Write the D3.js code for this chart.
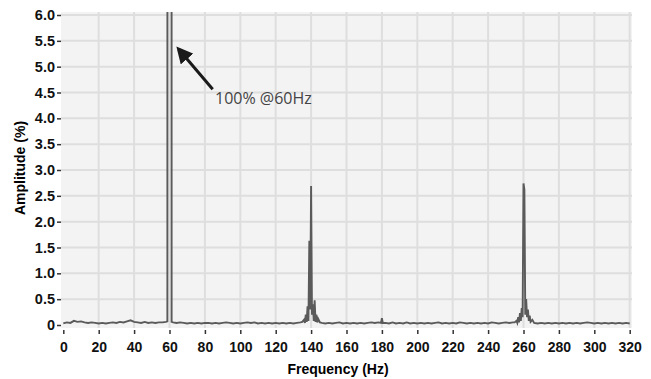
<!DOCTYPE html>
<html>
<head>
<meta charset="utf-8">
<script src="https://cdn.jsdelivr.net/npm/d3@7"></script>
<style>
body { margin: 0; background: #fff; }
svg { display: block; }
</style>
</head>
<body>
<div id="chart"></div>
<script>
// Spectrum samples (Hz, % amplitude). 100 = fundamental, clipped at 6%.
var freqHz = [
	0, 2, 4, 6, 8, 10, 12, 14, 16, 18, 20, 22, 24, 26, 28, 30, 32, 34, 36, 38,
	40, 42, 44, 46, 48, 50, 52, 54, 56, 58, 58.8, 59, 61, 61.2,
	62, 64, 66, 68, 70, 72, 74, 76, 78, 80, 82, 84, 86, 88, 90, 92, 94, 96, 98,
	100, 102, 104, 106, 108, 110, 112, 114, 116, 118, 120, 122, 124, 126, 128, 130, 132, 134,
	135, 136, 136.5, 137, 137.5, 138, 138.5, 139, 139.5, 140, 140.5, 141, 141.5, 142, 142.5,
	143, 143.5, 144, 145, 146, 148, 150, 152, 154, 156, 158, 160, 162, 164, 166, 168, 170,
	172, 174, 176, 178, 179.5, 180, 180.5, 182, 184, 186, 188, 190, 192, 194, 196, 198,
	200, 202, 204, 206, 208, 210, 212, 214, 216, 218, 220, 222, 224, 226, 228, 230, 232,
	234, 236, 238, 240, 242, 244, 246, 248, 250, 252, 254,
	255, 256, 256.5, 257, 257.5, 258, 258.5, 259, 259.5, 260, 260.5, 261, 261.5, 262, 262.5,
	263, 263.5, 264, 265, 266, 268, 270, 272, 274, 276, 278, 280, 282, 284, 286, 288, 290,
	292, 294, 296, 298, 300, 302, 304, 306, 308, 310, 312, 314, 316, 318, 320
];
var ampPct = [
	0.03, 0.05, 0.04, 0.08, 0.06, 0.07, 0.05, 0.04, 0.05, 0.04, 0.03, 0.04, 0.03, 0.04, 0.05, 0.04, 0.06, 0.05, 0.07, 0.09,
	0.06, 0.05, 0.04, 0.06, 0.04, 0.05, 0.04, 0.05, 0.05, 0.06, 0.07, 100, 100, 0.06,
	0.05, 0.04, 0.05, 0.04, 0.03, 0.04, 0.03, 0.04, 0.03, 0.04, 0.04, 0.03, 0.04, 0.03, 0.04, 0.05, 0.04, 0.03, 0.04,
	0.03, 0.04, 0.05, 0.04, 0.05, 0.03, 0.04, 0.03, 0.04, 0.03, 0.04, 0.03, 0.04, 0.03, 0.04, 0.03, 0.04, 0.05,
	0.06, 0.1, 0.04, 0.2, 0.06, 0.36, 0.08, 1.63, 0.3, 2.69, 0.2, 0.4, 0.08, 0.48, 0.06,
	0.2, 0.05, 0.12, 0.05, 0.04, 0.03, 0.04, 0.03, 0.04, 0.05, 0.03, 0.04, 0.03, 0.04, 0.03, 0.04, 0.03,
	0.04, 0.05, 0.04, 0.05, 0.04, 0.13, 0.04, 0.04, 0.03, 0.05, 0.03, 0.04, 0.03, 0.05, 0.03, 0.04,
	0.03, 0.04, 0.03, 0.04, 0.03, 0.04, 0.05, 0.03, 0.04, 0.03, 0.04, 0.03, 0.05, 0.04, 0.03, 0.04, 0.03,
	0.04, 0.03, 0.04, 0.03, 0.05, 0.04, 0.03, 0.04, 0.05, 0.04, 0.05,
	0.05, 0.08, 0.04, 0.15, 0.05, 0.23, 0.08, 0.33, 0.15, 2.74, 2.62, 0.2, 0.5, 0.15, 0.3,
	0.08, 0.18, 0.06, 0.1, 0.04, 0.03, 0.04, 0.03, 0.04, 0.03, 0.04, 0.03, 0.04, 0.03, 0.04, 0.03, 0.04,
	0.03, 0.04, 0.05, 0.04, 0.03, 0.04, 0.03, 0.04, 0.03, 0.04, 0.03, 0.04, 0.03, 0.04, 0.03
];
var xTicks = d3.range(0, 321, 20);
var yTicks = [0, 0.5, 1.0, 1.5, 2.0, 2.5, 3.0, 3.5, 4.0, 4.5, 5.0, 5.5, 6.0];

var width = 651, height = 379;
var x = d3.scaleLinear().domain([0, 320]).range([63.3, 629.7]);
var y = d3.scaleLinear().domain([0, 6]).range([325, 15]);

var svg = d3.select("#chart").append("svg")
	.attr("width", width)
	.attr("height", height);

// plot background
var px0 = 61, px1 = 632, py0 = 12, py1 = 328;
svg.append("rect")
	.attr("x", px0).attr("y", py0)
	.attr("width", px1 - px0).attr("height", py1 - py0)
	.attr("fill", "#f3f3f3");

// grid
svg.append("g").selectAll("line").data(xTicks.slice(1)).join("line")
	.attr("x1", function(d){ return x(d) }).attr("x2", function(d){ return x(d) })
	.attr("y1", py0).attr("y2", py1)
	.attr("stroke", "#dedede").attr("stroke-width", 2);
svg.append("g").selectAll("line").data(yTicks.slice(1)).join("line")
	.attr("x1", px0).attr("x2", px1)
	.attr("y1", function(d){ return y(d) }).attr("y2", function(d){ return y(d) })
	.attr("stroke", "#dedede").attr("stroke-width", 2);

// spectrum line, clipped to plot area
svg.append("clipPath").attr("id", "clip")
	.append("rect").attr("x", px0).attr("y", py0)
	.attr("width", px1 - px0).attr("height", py1 - py0);

var pts = freqHz.map(function(f, i){ return [f, ampPct[i]] });
var line = d3.line()
	.x(function(d){ return x(d[0]) })
	.y(function(d){ return y(d[1]) });
svg.append("path")
	.datum(pts)
	.attr("clip-path", "url(#clip)")
	.attr("d", line)
	.attr("fill", "none")
	.attr("stroke", "#5a5a5a")
	.attr("stroke-width", 1.9);

// y axis: labels + small dash, no domain line
var yAxis = d3.axisLeft(y).tickValues(yTicks).tickSize(4).tickPadding(2)
	.tickFormat(function(d){ return d === 0 ? "0" : d3.format(".1f")(d) });
var gy = svg.append("g").attr("transform", "translate(61,0)").call(yAxis);
gy.select(".domain").remove();

var xAxis = d3.axisBottom(x).tickValues(xTicks).tickSize(4).tickPadding(8);
var gx = svg.append("g").attr("transform", "translate(0,330)").call(xAxis);
gx.select(".domain").remove();

[gx, gy].forEach(function(g){
	g.selectAll("text")
		.attr("font-family", "Liberation Sans, Arial, sans-serif")
		.attr("font-size", 14)
		.attr("font-weight", "bold")
		.attr("fill", "#111");
	g.selectAll(".tick line").attr("stroke", "#333").attr("stroke-width", 1.5);
});
gy.selectAll("text").attr("font-size", 14.5);

svg.append("text")
	.attr("x", 338).attr("y", 374)
	.attr("text-anchor", "middle")
	.attr("font-family", "Liberation Sans, Arial, sans-serif")
	.attr("font-size", 14).attr("font-weight", "bold")
	.text("Frequency (Hz)");

svg.append("text")
	.attr("transform", "translate(25,168) rotate(-90)")
	.attr("text-anchor", "middle")
	.attr("font-family", "Liberation Sans, Arial, sans-serif")
	.attr("font-size", 14).attr("font-weight", "bold")
	.text("Amplitude (%)");

// annotation arrow
svg.append("defs").append("marker")
	.attr("id", "head")
	.attr("viewBox", "0 0 10 10")
	.attr("refX", 8).attr("refY", 5)
	.attr("markerWidth", 5.5).attr("markerHeight", 5.5)
	.attr("orient", "auto")
	.append("path").attr("d", "M0,0L10,5L0,10z").attr("fill", "#1a1a1a");

svg.append("line")
	.attr("x1", 212.7).attr("y1", 89.3)
	.attr("x2", 178.5).attr("y2", 49)
	.attr("stroke", "#1a1a1a").attr("stroke-width", 3)
	.attr("marker-end", "url(#head)");

svg.append("text")
	.attr("x", 215).attr("y", 104)
	.attr("font-family", "Open Sans, sans-serif")
	.attr("font-size", 16)
	.attr("fill", "#444")
	.text("100% @60Hz");
</script>
</body>
</html>
